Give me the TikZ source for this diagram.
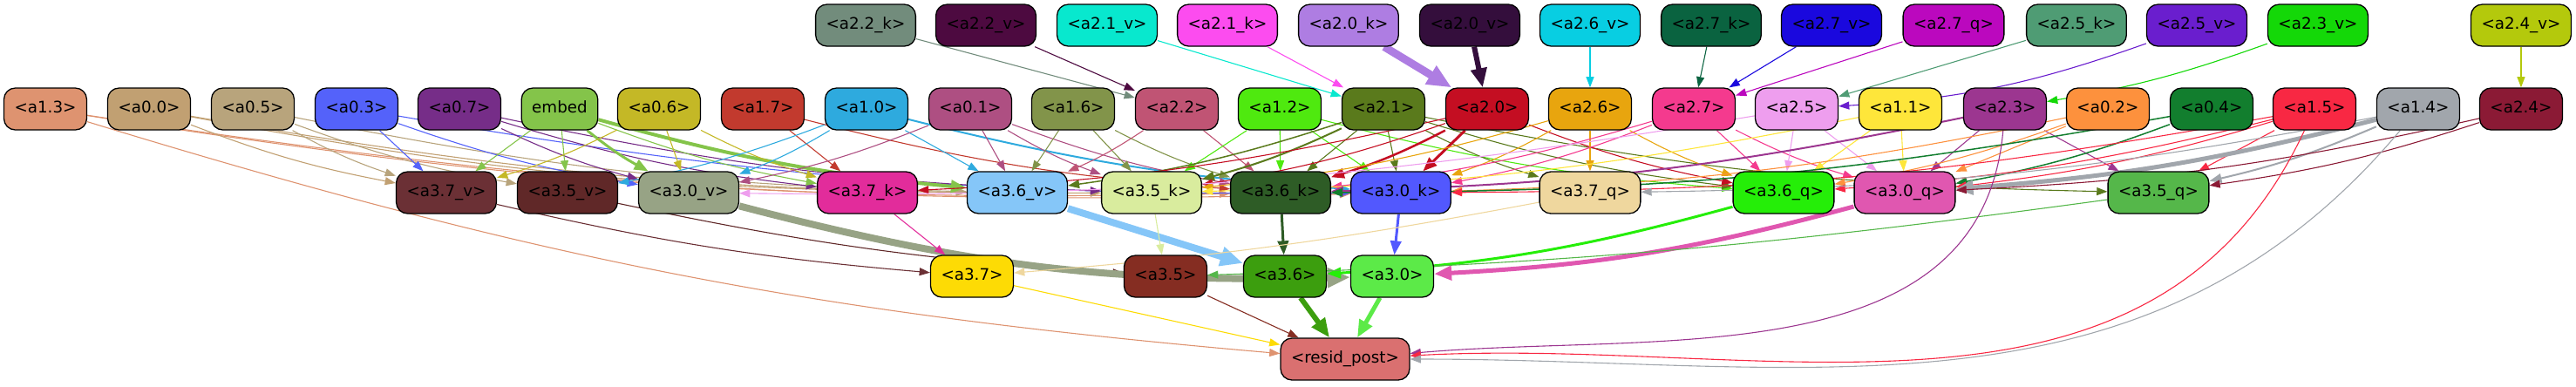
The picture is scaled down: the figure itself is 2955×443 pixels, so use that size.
\documentclass[tikz,border=0pt]{standalone}
\usepackage{fontspec}
\setmainfont{DejaVu Sans}
\usetikzlibrary{arrows.meta}
\pgfdeclarelayer{background}
\pgfsetlayers{background,main}
% row 1
\definecolor{n22k}{HTML}{728C7C}\definecolor{n22v}{HTML}{4D0A40}\definecolor{n21v}{HTML}{08E8CE}
\definecolor{n21k}{HTML}{FC4CEF}\definecolor{n20k}{HTML}{AE7DE2}\definecolor{n20v}{HTML}{340E3C}
\definecolor{n26v}{HTML}{08CEE2}\definecolor{n27k}{HTML}{0A6340}\definecolor{n27v}{HTML}{1A08DE}
\definecolor{n27q}{HTML}{BB08BE}\definecolor{n25k}{HTML}{4F9C74}\definecolor{n25v}{HTML}{6A1ECE}
\definecolor{n23v}{HTML}{14D808}\definecolor{n24v}{HTML}{B4C90C}
% row 2
\definecolor{n13}{HTML}{DE9370}\definecolor{n00}{HTML}{C1A072}\definecolor{n05}{HTML}{B8A47C}
\definecolor{n03}{HTML}{5462FA}\definecolor{n07}{HTML}{762D88}\definecolor{nemb}{HTML}{84C44A}
\definecolor{n06}{HTML}{C4B826}\definecolor{n17}{HTML}{C23A2E}\definecolor{n10}{HTML}{2EAADE}
\definecolor{n01}{HTML}{AE4F82}\definecolor{n16}{HTML}{82944A}\definecolor{n22}{HTML}{C05474}
\definecolor{n12}{HTML}{4FE90F}\definecolor{n21}{HTML}{5A7A1C}\definecolor{n20}{HTML}{C40E22}
\definecolor{n26}{HTML}{E8A50E}\definecolor{n27}{HTML}{F43A8E}\definecolor{n25}{HTML}{EE9EEE}
\definecolor{n11}{HTML}{FEE63A}\definecolor{n23}{HTML}{9C3690}\definecolor{n02}{HTML}{FD913D}
\definecolor{n04}{HTML}{127E2E}\definecolor{n15}{HTML}{F82843}\definecolor{n14}{HTML}{A1A6AC}
\definecolor{n24}{HTML}{8B1A35}
% row 3
\definecolor{n37v}{HTML}{6B3035}\definecolor{n35v}{HTML}{602828}\definecolor{n30v}{HTML}{97A385}
\definecolor{n37k}{HTML}{E22C9B}\definecolor{n36v}{HTML}{85C6F8}\definecolor{n35k}{HTML}{D9EC9E}
\definecolor{n36k}{HTML}{2E5C26}\definecolor{n30k}{HTML}{5258FE}\definecolor{n37q}{HTML}{EFD79E}
\definecolor{n36q}{HTML}{25EE08}\definecolor{n30q}{HTML}{E057B0}\definecolor{n35q}{HTML}{55B74A}
% row 4/5
\definecolor{n37}{HTML}{FDDB05}\definecolor{n35}{HTML}{852D22}\definecolor{n36}{HTML}{3C9E0E}
\definecolor{n30}{HTML}{5CEA48}\definecolor{nres}{HTML}{DA7070}
\newcommand\edS[3][]{\draw[ed,color=#2,#1] (#2) -- (#3);}
\newcommand\edR[3][]{\draw[ed,color=#2,#1] (#2) to[bend right=5] (#3);}
\newcommand\edL[3][]{\draw[ed,color=#2,#1] (#2) to[bend left=5] (#3);}
\begin{document}
\begin{tikzpicture}[x=0.05pt,y=0.05pt,
  nd/.style={draw=black, line width=0.065pt, rounded corners=0.65pt, minimum height=2.4pt,
    inner xsep=0.6pt, inner ysep=0pt, font=\fontsize{0.915}{1.1}\selectfont,
    text height=0.675pt, text depth=0.2pt},
  ed/.style={line width=0.055pt, -{Triangle[length=0.5pt 2, width=0.35pt 1.8]}},
  w15/.style={line width=0.075pt}, w2/.style={line width=0.1pt}, w25/.style={line width=0.125pt},
  w3/.style={line width=0.15pt}, w4/.style={line width=0.2pt}, w5/.style={line width=0.25pt},
  w6/.style={line width=0.3pt}, w8/.style={line width=0.4pt}, w9/.style={line width=0.45pt}]
\useasboundingbox (0,0) rectangle (2955,-443);
% row 1
\foreach \n/\x/\t in {n22k/993/2.2\_k, n22v/1131/2.2\_v, n21v/1270/2.1\_v, n21k/1408/2.1\_k,
  n20k/1547/2.0\_k, n20v/1686/2.0\_v, n26v/1824/2.6\_v, n27k/1963/2.7\_k, n27v/2101/2.7\_v,
  n27q/2241/2.7\_q, n25k/2382/2.5\_k, n25v/2520/2.5\_v, n23v/2659/2.3\_v, n24v/2892/2.4\_v}
  \node[nd, fill=\n] (\n) at (\x,-29) {<a\t>};
% row 2
\foreach \n/\x/\t in {n13/52/1.3, n00/171/0.0, n05/290/0.5, n03/409/0.3, n07/527/0.7,
  n06/756/0.6, n17/875/1.7, n10/994/1.0, n01/1113/0.1, n16/1231/1.6, n22/1350/2.2,
  n12/1468/1.2, n21/1587/2.1, n20/1706/2.0, n26/1824/2.6, n27/1943/2.7, n25/2061/2.5,
  n11/2180/1.1, n23/2300/2.3, n02/2418/0.2, n04/2537/0.4, n15/2655/1.5, n14/2774/1.4,
  n24/2892/2.4}
  \node[nd, fill=\n] (\n) at (\x,-125) {<a\t>};
\node[nd, fill=nemb] (nemb) at (642,-125) {embed};
% row 3
\foreach \n/\x/\t in {n37v/512/3.7\_v, n35v/651/3.5\_v, n30v/790/3.0\_v, n37k/995/3.7\_k,
  n36v/1167/3.6\_v, n35k/1321/3.5\_k, n36k/1469/3.6\_k, n30k/1607/3.0\_k, n37q/1824/3.7\_q,
  n36q/2046/3.6\_q, n30q/2185/3.0\_q, n35q/2476/3.5\_q}
  \node[nd, fill=\n] (\n) at (\x,-221) {<a\t>};
% row 4
\foreach \n/\x/\t in {n37/1115/3.7, n35/1337/3.5, n36/1474/3.6, n30/1597/3.0}
  \node[nd, fill=\n] (\n) at (\x,-317) {<a\t>};
\node[nd, fill=nres] (nres) at (1543,-412) {<resid\_post>};

\begin{pgfonlayer}{background}
% row 1 -> row 2
\edS{n22k}{n22} \edS{n22v}{n22} \edS{n21v}{n21} \edS{n21k}{n21}
\edS[w9]{n20k}{n20} \edS[w6]{n20v}{n20}
\edS{n26v}{n26} \edS{n27k}{n27} \edS{n27v}{n27} \edS{n27q}{n27}
\edS{n25k}{n25} \draw[ed,color=n25v] (n25v) to[bend left=8] (n25);
\edL{n23v}{n23} \edS{n24v}{n24}
% row 2 -> row 3
\edR{n13}{n30k} \edR{n13}{n36k}
\edR{n00}{n37v} \edR{n00}{n35k} \edR{n00}{n36v}
\edR{n05}{n37v} \edR{n05}{n35v} \edR{n05}{n36v}
\edS{n03}{n37v} \edR{n03}{n30v} \edR{n03}{n30k}
\edR{n07}{n30v} \edR{n07}{n37k} \edR{n07}{n35k}
\edS{nemb}{n37v} \edS{nemb}{n35v} \edR[w3]{nemb}{n30v} \edR{nemb}{n37k}
\edR[w4]{nemb}{n36v}
\edL{n06}{n37v} \edS{n06}{n30v} \edR{n06}{n37k}
\edS{n17}{n37k} \edR{n17}{n36k}
\edL{n10}{n35v} \edL{n10}{n30v} \edS{n10}{n36v} \edR[w2]{n10}{n30k}
\edL{n01}{n30v} \edS{n01}{n36v} \edR{n01}{n35k} \edR{n01}{n36k}
\edS{n16}{n36v} \edS{n16}{n35k} \edR{n16}{n36k}
\edL{n22}{n36v} \edS{n22}{n36k}
\edS{n12}{n35k} \edS{n12}{n36k} \edS{n12}{n30k} \edR{n12}{n36q}
\edS{n21}{n36k} \edS{n21}{n30k} \edR{n21}{n37q} \edR{n21}{n36q} \edR{n21}{n35q}
\edL[w2]{n21}{n35k} \edL[w15]{n21}{n36v}
\edL{n20}{n37k} \edL{n20}{n35k} \edL[w25]{n20}{n36k} \edS[w3]{n20}{n30k}
\edR{n20}{n36q}
\edS{n26}{n37q} \edL{n26}{n30k} \edR{n26}{n36q} \edL{n26}{n35k}
\edL{n27}{n30k} \edS{n27}{n36q} \edR{n27}{n30q} \edL{n27}{n36k}
\edL{n25}{n30v} \edS{n25}{n36q} \edS{n25}{n30q}
\edL{n11}{n35k} \edS{n11}{n36q} \edS{n11}{n30q}
\edS{n23}{n30q} \edS{n23}{n35q} \edL[w2]{n23}{n36k}
\edL{n02}{n30k} \edL{n02}{n36q} \edS{n02}{n30q}
\edL[w15]{n04}{n36k} \edL[w15]{n04}{n30q}
\edS{n15}{n35q} \edL{n15}{n30q} \edL{n15}{n30k} \edL{n15}{n36q}
\edL[w5]{n14}{n30q} \edL[w2]{n14}{n35q} \edL{n14}{n37q}
\edL{n24}{n30q} \edL{n24}{n35q}
% row 3 -> row 4
\draw[ed,color=n37v] (n37v) to[bend right=4] (n37);
\draw[ed,color=n35v] (n35v) to[bend right=4] (n35);
\draw[ed,color=n30v,w8] (n30v) to[bend right=8] (n30);
\edS{n37k}{n37}
\edS[w8]{n36v}{n36}
\edS{n35k}{n35}
\edS[w3]{n36k}{n36}
\edS[w3]{n30k}{n30}
\draw[ed,color=n37q] (n37q) to[bend left=3] (n37);
\draw[ed,color=n36q,w3] (n36q) to[bend left=6] (n36);
\draw[ed,color=n30q,w5] (n30q) to[bend left=6] (n30);
\draw[ed,color=n35q] (n35q) to[bend left=3] (n35);
% to resid_post
\edS{n37}{nres} \edS{n35}{nres}
\edS[w6]{n36}{nres} \edS[w5]{n30}{nres}
\draw[ed,color=n13] (n13) to[bend right=6] (nres);
\draw[ed,color=n23] (n23) to[out=-95,in=5] (nres);
\draw[ed,color=n15] (n15) to[out=-115,in=3] (nres);
\draw[ed,color=n14] (n14) to[out=-130,in=0] (nres);
\end{pgfonlayer}
\end{tikzpicture}
\end{document}
